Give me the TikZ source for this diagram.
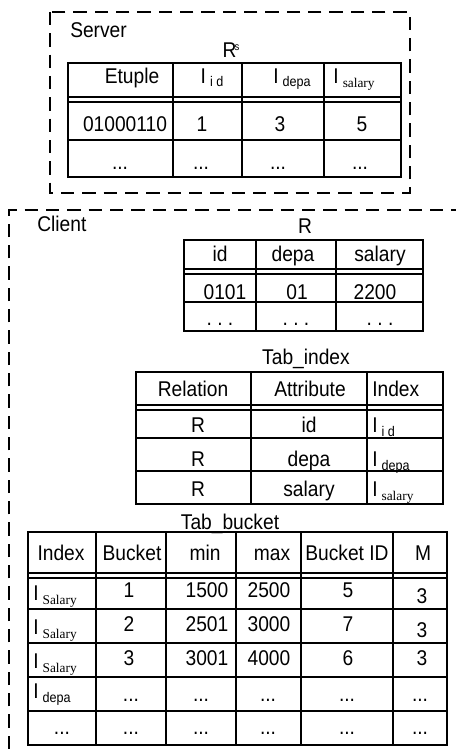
\documentclass[tikz,border=0pt]{standalone}
\usepackage{fontspec}
\setmainfont[FakeStretch=0.9]{Liberation Sans}
\newfontfamily\timesfont{Liberation Serif}
\usetikzlibrary{positioning}

\newcommand{\tabfont}{\fontsize{16}{18}\selectfont}
\newcommand{\Isans}[1]{I\kern3pt\raisebox{-2.5pt}{\fontsize{10.5}{11}\selectfont #1}}
\newcommand{\Iserif}[1]{I\kern3pt\raisebox{-3pt}{\fontsize{10}{10}\selectfont\timesfont #1}}
\newcommand{\Rsup}{R\kern-1.5pt\raisebox{5pt}{\fontsize{8}{8}\selectfont s}}

\begin{document}
\begin{tikzpicture}[
    x=0.75pt, y=-0.75pt,
    zone/.style={dash pattern=on 10pt off 6pt, line width=1.4pt},
    grid/.style={line width=1.1pt},
    cell/.style={font=\tabfont, inner sep=0pt, text height=11.5pt, text depth=0pt},
    title/.style={cell}
]
\useasboundingbox (0,0) rectangle (456,749);

% Server side
\draw[zone] (50,12) rectangle (410,193);
\node[title, anchor=west] (server) at (70,30) {Server};
\node[title] (rs) at (231,50) {\Rsup};

\draw[grid] (68,63) rectangle (401,177);
\foreach \y in {97,102,140} \draw[grid] (68,\y) -- (401,\y);
\foreach \x in {173,242,324} \draw[grid] (\x,63) -- (\x,177);

\foreach \x/\t [count=\i] in {132/Etuple, 212/{\Isans{i d}}, 292/{\Isans{depa}}, 354/{\Iserif{salary}}}
  \node[cell] (srv-h\i) at (\x,76) {\t};
\foreach \x/\t [count=\i] in {125/01000110, 202/1, 280/3, 362/5}
  \node[cell] (srv-a\i) at (\x,124) {\t};
\foreach \x [count=\i] in {120,201,278,360}
  \node[cell] (srv-b\i) at (\x,162) {...};

% Client side
\draw[zone] (9,749) -- (9,210) -- (456,210);
\node[title, anchor=west] (client) at (37,224) {Client};

% R
\node[title] (rname) at (305,226) {R};
\draw[grid] (184,240) rectangle (423,331);
\foreach \y in {269,274,302} \draw[grid] (184,\y) -- (423,\y);
\foreach \x in {256,336} \draw[grid] (\x,240) -- (\x,331);

\foreach \x/\t [count=\i] in {220/id, 293/depa, 380/salary}
  \node[cell] (r-h\i) at (\x,254) {\t};
\foreach \x/\t [count=\i] in {225/0101, 297/01, 375/2200}
  \node[cell] (r-a\i) at (\x,292) {\t};
\foreach \x [count=\i] in {220,296,380}
  \node[cell] (r-b\i) at (\x,318) {.\ .\ .};

% Tab_index
\node[title] (idxname) at (306,357) {Tab\_index};
\draw[grid] (136,372) rectangle (443,504);
\foreach \y in {405,410,438,471} \draw[grid] (136,\y) -- (443,\y);
\foreach \x in {251,367} \draw[grid] (\x,372) -- (\x,504);

\node[cell] (idx-h1) at (193,389) {Relation};
\node[cell] (idx-h2) at (310,389) {Attribute};
\node[cell, anchor=west] (idx-h3) at (372,389) {Index};
\foreach \y/\a/\s [count=\i] in {425/id/{\Isans{i d}}, 459/depa/{\Isans{depa}}, 489/salary/{\Iserif{salary}}} {
  \node[cell] (idx-r\i) at (198,\y) {R};
  \node[cell] (idx-a\i) at (309,\y) {\a};
  \node[cell, anchor=west] (idx-i\i) at (372,\y) {\s};
}

% Tab_bucket
\node[title] (bktname) at (230,522) {Tab\_bucket};
\draw[grid] (28,532) rectangle (447,745);
\foreach \y in {573,578,609,643,677,711} \draw[grid] (28,\y) -- (447,\y);
\foreach \x in {96,166,236,301,393} \draw[grid] (\x,532) -- (\x,745);

\foreach \x/\t [count=\i] in {61/Index, 132/Bucket, 205/min, 272/max, 347/Bucket ID, 423/M}
  \node[cell] (bkt-h\i) at (\x,553) {\t};
\foreach \y/\b/\lo/\hi/\id/\m [count=\i] in {590/1/1500/2500/5/596, 624/2/2501/3000/7/630, 658/3/3001/4000/6/658} {
  \node[cell, anchor=west] (bkt-x\i) at (33,\y+3) {\Iserif{Salary}};
  \node[cell] (bkt-b\i) at (129,\y) {\b};
  \node[cell] (bkt-l\i) at (207,\y) {\lo};
  \node[cell] (bkt-u\i) at (269,\y) {\hi};
  \node[cell] (bkt-d\i) at (348,\y) {\id};
  \node[cell] (bkt-m\i) at (422,\m) {3};
}
\node[cell, anchor=west] (bkt-x4) at (33,691) {\Isans{depa}};
\foreach \x [count=\i] in {131,201,268,347,420}
  \node[cell] (bkt-p\i) at (\x,694) {...};
\foreach \x [count=\i] in {62,131,201,268,347,420}
  \node[cell] (bkt-q\i) at (\x,727) {...};

\end{tikzpicture}
\end{document}
